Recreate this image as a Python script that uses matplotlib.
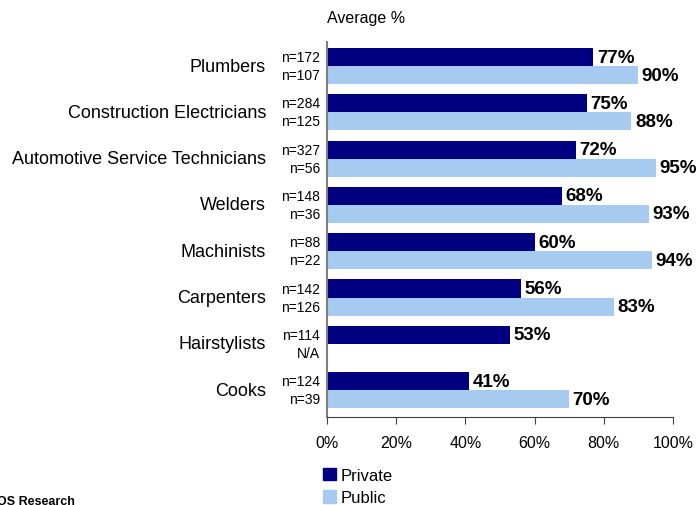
import numpy as np
import matplotlib.pyplot as plt
from matplotlib.patches import Patch

plt.rcParams['font.family'] = ['Liberation Sans', 'DejaVu Sans']

trades = ["Plumbers", "Construction Electricians", "Automotive Service Technicians",
          "Welders", "Machinists", "Carpenters", "Hairstylists", "Cooks"]
private_pct = [77, 75, 72, 68, 60, 56, 53, 41]
public_pct = [90, 88, 95, 93, 94, 83, None, 70]
private_n = ["n=172", "n=284", "n=327", "n=148", "n=88", "n=142", "n=114", "n=124"]
public_n = ["n=107", "n=125", "n=56", "n=36", "n=22", "n=126", "N/A", "n=39"]

dark = "#000080"
light = "#a6caf0"

fig = plt.figure(figsize=(6.96, 5.06), dpi=100)
ax = fig.add_axes([327 / 696, 88 / 506, 346 / 696, 375 / 506])

h = 0.39
y = np.arange(len(trades))
pub_vals = [v if v is not None else 0 for v in public_pct]
ax.barh(y - h / 2, private_pct, height=h, color=dark)
ax.barh(y + h / 2, pub_vals, height=h, color=light)

for i in range(len(trades)):
    ax.annotate(f"{private_pct[i]}%", (private_pct[i], y[i] - h / 2), xytext=(2.5, 0),
                textcoords="offset points", va="center", ha="left",
                fontsize=13.5, fontweight="bold")
    if public_pct[i] is not None:
        ax.annotate(f"{public_pct[i]}%", (public_pct[i], y[i] + h / 2), xytext=(2.5, 0),
                    textcoords="offset points", va="center", ha="left",
                    fontsize=13.5, fontweight="bold", annotation_clip=False)
    # sample sizes next to the axis
    ax.annotate(private_n[i], (0, y[i] - h / 2), xytext=(-5, 0), textcoords="offset points",
                va="center", ha="right", fontsize=10, xycoords=("axes fraction", "data"))
    ax.annotate(public_n[i], (0, y[i] + h / 2), xytext=(-5, 0), textcoords="offset points",
                va="center", ha="right", fontsize=10, xycoords=("axes fraction", "data"))
    ax.annotate(trades[i], (0, y[i]), xytext=(-44, 0), textcoords="offset points",
                va="center", ha="right", fontsize=13, xycoords=("axes fraction", "data"))

ax.set_xlim(0, 100)
ax.set_ylim(7.58, -0.52)
ax.set_xticks(np.arange(0, 101, 20))
ax.set_xticklabels([f"{t}%" for t in range(0, 101, 20)], fontsize=11.5)
ax.set_yticks([])
ax.tick_params(axis="x", direction="out", length=5, color="#404040", pad=8)
for s in ["top", "right"]:
    ax.spines[s].set_visible(False)
ax.spines["left"].set_color("#808080")
ax.spines["left"].set_linewidth(1.5)
ax.spines["bottom"].set_color("#404040")

fig.text(327 / 696, 1 - 19 / 506, "Average %", fontsize=11.5, va="center", ha="left")
fig.text(-3 / 696, 1 - 502 / 506, "OS Research", fontsize=9, fontweight="bold",
         va="center", ha="left")

handles = [Patch(color=dark), Patch(color=light)]
fig.legend(handles, ["Private", "Public"], loc="upper left",
           bbox_to_anchor=(316 / 696, 1 - 462 / 506), frameon=False,
           handlelength=0.8, handleheight=0.8, handletextpad=0.3,
           labelspacing=0.45, fontsize=12, borderaxespad=0)

fig.savefig("out.png", dpi=100)
